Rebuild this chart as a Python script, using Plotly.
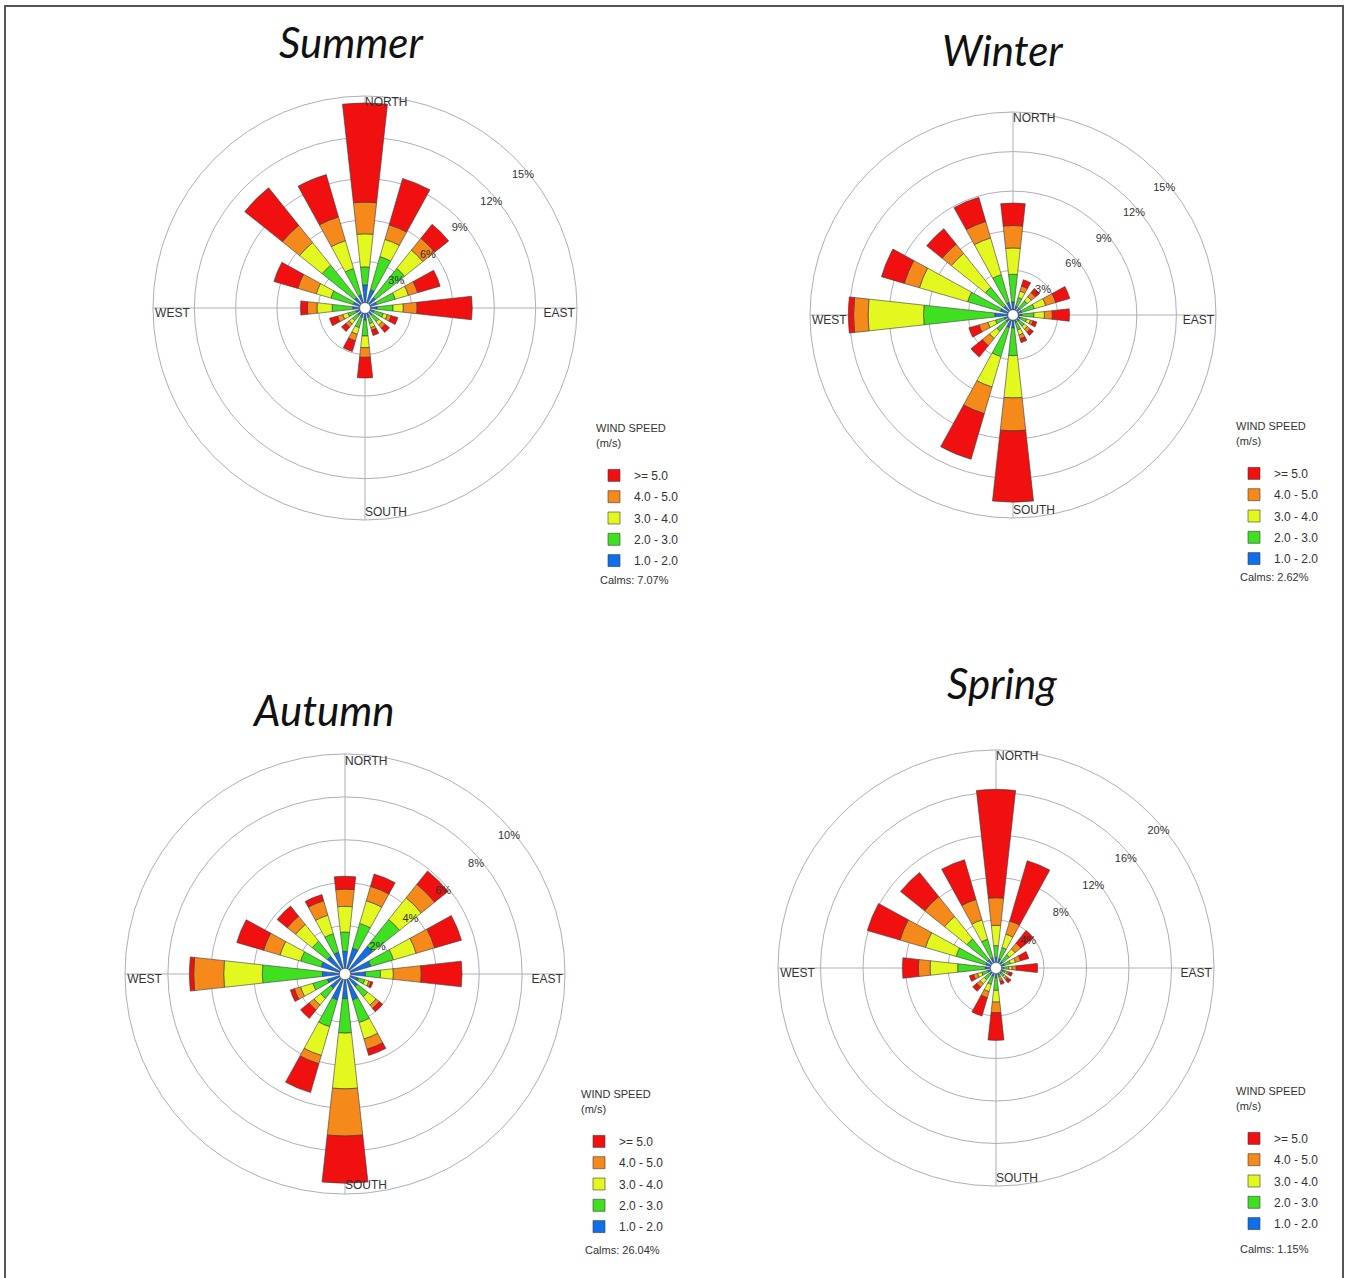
import plotly.graph_objects as go

# 16 compass sectors, clockwise from north
directions = [0, 22.5, 45, 67.5, 90, 112.5, 135, 157.5,
              180, 202.5, 225, 247.5, 270, 292.5, 315, 337.5]

speed_bins = ["1.0 - 2.0", "2.0 - 3.0", "3.0 - 4.0", "4.0 - 5.0", ">= 5.0"]
bin_colors = ["#0f6fea", "#3fe01f", "#e2f81f", "#f5891a", "#f01010"]

# Frequency (%) per sector for each wind speed class
summer_1_2 = [1.3, 1.0, 0.6, 0.5, 0.5, 0.3, 0.3, 0.3, 0.5, 0.3, 0.3, 0.3, 0.5, 0.5, 0.6, 0.6]
summer_2_3 = [1.3, 2.5, 2.7, 1.4, 1.15, 0.7, 0.6, 0.5, 1.15, 0.8, 0.5, 0.6, 1.5, 1.7, 3.0, 2.0]
summer_3_4 = [2.4, 1.3, 1.7, 1.0, 0.75, 0.3, 0.3, 0.3, 0.85, 0.5, 0.3, 0.4, 1.1, 1.1, 2.1, 2.1]
summer_4_5 = [2.3, 1.1, 1.1, 0.7, 1.0, 0.3, 0.3, 0.2, 0.7, 0.5, 0.3, 0.4, 0.7, 1.4, 1.6, 1.8]
summer_5_up = [7.2, 3.5, 1.3, 1.7, 4.0, 0.5, 0.4, 0.4, 1.5, 0.8, 0.4, 0.6, 0.5, 1.8, 3.5, 3.2]

winter_1_2 = [0.6, 0.3, 0.3, 0.3, 0.3, 0.2, 0.2, 0.2, 0.6, 0.6, 0.3, 0.3, 1.0, 0.6, 0.5, 0.6]
winter_2_3 = [2.1, 0.7, 0.7, 1.0, 0.9, 0.5, 0.5, 0.6, 2.1, 2.3, 0.9, 0.7, 5.4, 2.6, 1.8, 2.2]
winter_3_4 = [2.0, 0.5, 0.4, 0.9, 0.8, 0.3, 0.3, 0.4, 3.2, 2.4, 0.7, 0.6, 4.2, 3.8, 3.3, 2.9]
winter_4_5 = [1.7, 0.4, 0.4, 0.8, 0.6, 0.2, 0.3, 0.3, 2.5, 2.1, 0.7, 0.7, 1.1, 1.2, 0.9, 1.3]
winter_5_up = [1.7, 0.5, 0.4, 1.1, 1.3, 0.3, 0.3, 0.3, 5.4, 3.6, 1.1, 0.8, 0.4, 1.8, 1.5, 1.9]

autumn_1_2 = [0.8, 1.0, 1.4, 1.0, 0.7, 0.4, 0.5, 1.0, 0.9, 1.0, 0.6, 0.6, 0.8, 0.9, 0.8, 0.8]
autumn_2_3 = [0.9, 1.2, 1.6, 1.1, 0.7, 0.3, 0.6, 1.1, 1.6, 1.3, 0.6, 0.7, 2.8, 1.0, 0.9, 0.9]
autumn_3_4 = [1.2, 1.1, 1.3, 1.1, 0.6, 0.2, 0.5, 0.8, 2.6, 1.4, 0.4, 0.6, 1.8, 1.0, 1.0, 0.9]
autumn_4_5 = [0.8, 0.7, 0.8, 0.9, 1.3, 0.1, 0.2, 0.5, 2.2, 0.4, 0.3, 0.3, 1.4, 0.8, 0.5, 0.7]
autumn_5_up = [0.6, 0.6, 0.8, 1.3, 1.9, 0.1, 0.2, 0.3, 2.2, 1.4, 0.5, 0.2, 0.2, 1.3, 0.6, 0.3]

spring_1_2 = [0.5, 0.4, 0.3, 0.3, 0.2, 0.2, 0.2, 0.2, 0.4, 0.3, 0.3, 0.3, 0.5, 0.5, 0.5, 0.5]
spring_2_3 = [1.1, 1.1, 0.8, 0.6, 0.5, 0.2, 0.3, 0.2, 1.2, 0.8, 0.6, 0.6, 2.6, 2.9, 2.5, 1.8]
spring_3_4 = [1.9, 1.3, 0.7, 0.5, 0.3, 0.2, 0.2, 0.2, 1.1, 0.7, 0.5, 0.4, 2.6, 3.0, 2.7, 1.9]
spring_4_5 = [2.6, 1.3, 0.7, 0.5, 0.4, 0.2, 0.2, 0.2, 1.0, 0.6, 0.4, 0.4, 1.1, 2.5, 2.4, 2.0]
spring_5_up = [10.2, 5.9, 1.5, 0.8, 2.0, 0.3, 0.4, 0.3, 2.6, 1.8, 0.5, 0.4, 1.5, 3.2, 2.9, 3.9]

season_names = ["Summer", "Winter", "Autumn", "Spring"]
calms = ["7.07%", "2.62%", "26.04%", "1.15%"]
ring_ticks = [[3, 6, 9, 12, 15], [3, 6, 9, 12, 15], [2, 4, 6, 8, 10], [4, 8, 12, 16, 20]]

season_bins = [
    [summer_1_2, summer_2_3, summer_3_4, summer_4_5, summer_5_up],
    [winter_1_2, winter_2_3, winter_3_4, winter_4_5, winter_5_up],
    [autumn_1_2, autumn_2_3, autumn_3_4, autumn_4_5, autumn_5_up],
    [spring_1_2, spring_2_3, spring_3_4, spring_4_5, spring_5_up],
]

W, H = 1349, 1278


def px(x):
    return x / W


def py(y):
    return 1 - y / H


# rose centre (cx, cy) and outer radius in pixels
rose_geom = [(365, 308, 212), (1013, 315, 203), (345, 974, 220), (996, 968, 218)]
title_pos = [(351, 42), (1002, 50), (323, 710), (1002, 683)]
legend_pos = [(594, 418), (1234, 416), (579, 1084), (1234, 1081)]
calm_pos = [(598, 580), (1238, 577), (583, 1250), (1238, 1249)]

GRID = "#aeaebd"
TXT = "#333333"
FONT = "Liberation Sans"

fig = go.Figure()
layout_extra = {}
annotations = []

for i, name in enumerate(season_names):
    sub = "polar" if i == 0 else f"polar{i + 1}"
    leg = "legend" if i == 0 else f"legend{i + 1}"
    rmax = ring_ticks[i][-1]

    for b, label in enumerate(speed_bins):
        fig.add_trace(go.Barpolar(
            r=season_bins[i][b], theta=directions, width=12.6,
            name=label, subplot=sub, legend=leg,
            legendgroup=f"{name}-{label}", legendrank=100 - b,
            marker=dict(color=bin_colors[b], line=dict(color="#3a3a3a", width=0.6)),
            hoverinfo="skip",
        ))

    # percentage labels on the rings
    fig.add_trace(go.Scatterpolar(
        r=[t - rmax * 0.028 for t in ring_ticks[i]],
        theta=[50] * len(ring_ticks[i]),
        text=[f"{t}%" for t in ring_ticks[i]],
        mode="text", textfont=dict(family=FONT, size=11, color=TXT),
        subplot=sub, showlegend=False, cliponaxis=False, hoverinfo="skip",
    ))
    # compass point labels
    fig.add_trace(go.Scatterpolar(
        r=[rmax * 0.965, rmax * 0.99, rmax * 0.965, rmax * 0.99],
        theta=[0, 90, 180, 270],
        text=["NORTH", "EAST", "SOUTH", "WEST"],
        textposition=["middle right", "bottom left", "middle right", "bottom right"],
        mode="text", textfont=dict(family=FONT, size=12, color=TXT),
        subplot=sub, showlegend=False, cliponaxis=False, hoverinfo="skip",
    ))

    cx, cy, R = rose_geom[i]
    layout_extra[sub] = dict(
        domain=dict(x=[px(cx - R), px(cx + R)], y=[py(cy + R), py(cy - R)]),
        hole=0.025, bgcolor="rgba(0,0,0,0)", barmode="stack",
        radialaxis=dict(range=[0, rmax], tickvals=ring_ticks[i], showticklabels=False,
                        ticks="", showline=False, gridcolor=GRID, gridwidth=1,
                        layer="below traces"),
        angularaxis=dict(direction="clockwise", rotation=90, tickvals=[0, 90, 180, 270],
                         showticklabels=False, ticks="", gridcolor=GRID, linecolor=GRID,
                         showline=True, layer="below traces"),
    )

    lx, ly = legend_pos[i]
    layout_extra[leg] = dict(
        x=px(lx), y=py(ly), xanchor="left", yanchor="top",
        traceorder="grouped", tracegroupgap=2.3,
        title=dict(text="WIND SPEED<br>(m/s)<br> ", font=dict(family=FONT, size=11, color=TXT)),
        font=dict(family=FONT, size=12, color=TXT),
        bgcolor="rgba(0,0,0,0)", itemclick=False, itemdoubleclick=False,
    )

    tx, ty = title_pos[i]
    annotations.append(dict(
        x=px(tx), y=py(ty), xref="paper", yref="paper", text=name, showarrow=False,
        xanchor="center", yanchor="middle",
        font=dict(family="Lato", size=42, style="italic", color="#111111"),
    ))
    kx, ky = calm_pos[i]
    annotations.append(dict(
        x=px(kx), y=py(ky), xref="paper", yref="paper", text=f"Calms: {calms[i]}",
        showarrow=False, xanchor="left", yanchor="middle",
        font=dict(family=FONT, size=11, color=TXT),
    ))

fig.update_layout(
    width=W, height=H, margin=dict(l=0, r=0, t=0, b=0),
    paper_bgcolor="white", plot_bgcolor="white",
    annotations=annotations,
    shapes=[dict(type="rect", xref="paper", yref="paper",
                 x0=px(5), x1=px(1343), y0=-0.02, y1=py(6),
                 line=dict(color="#555555", width=2))],
    **layout_extra,
)

fig.write_html("out.html")
